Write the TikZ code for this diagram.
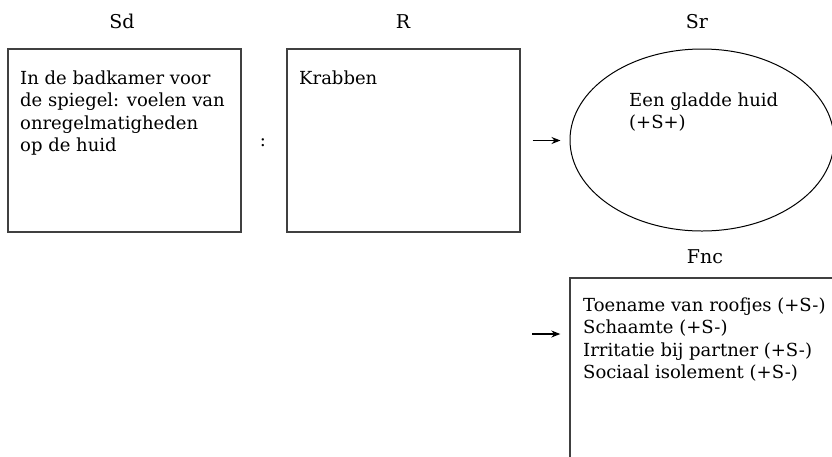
\documentclass[tikz,border=0pt]{standalone}
\usepackage{fontspec}
\setmainfont{DejaVu Serif}
\usetikzlibrary{arrows.meta,shapes.geometric}
\begin{document}
\begin{tikzpicture}[x=1pt,y=-1pt,
  box/.style={draw=black!75,line width=1.4pt,minimum width=233pt,minimum height=183pt,inner sep=0pt},
  oval/.style={draw=black,line width=1pt,ellipse,minimum width=264pt,minimum height=182pt,inner sep=0pt},
  txt/.style={anchor=base west,align=left,inner sep=0pt,font=\fontsize{18}{22.5}\selectfont},
  lbl/.style={anchor=base,inner sep=0pt,font=\fontsize{19}{22}\selectfont},
  arr/.style={-{Stealth[length=9pt,width=7pt]},line width=1.2pt}]
\useasboundingbox (0,0) rectangle (832,456);
\clip (0,0) rectangle (832,456);
% labels
\node[lbl] (lSd) at (122,28) {Sd};
\node[lbl] (lR) at (403,28) {R};
\node[lbl] (lSr) at (697,28) {Sr};
\node[lbl] (lFnc) at (705,263) {Fnc};
% boxes
\node[box] (Sd) at (124.5,140.5) {};
\node[box] (R) at (403.5,140.5) {};
\node[oval] (Sr) at (702,140) {};
\node[box,minimum width=300pt,minimum height=250pt] (Fnc) at (720,403) {};
% texts (base anchor = baseline of last line)
\node[txt] (tSd) at (20,151.5) {In de badkamer voor\\de spiegel: voelen van\\onregelmatigheden\\op de huid};
\node[txt] (tR) at (299,84) {Krabben};
\node[txt] (tSr) at (629,128.5) {Een gladde huid\\(+S+)};
\node[txt] (tFnc) at (583,378.5) {Toename van roofjes (+S-)\\Schaamte (+S-)\\Irritatie bij partner (+S-)\\Sociaal isolement (+S-)};
\node[txt,anchor=base] (colon) at (263,146) {:};
% arrows
\coordinate (a1) at ([xshift=12pt]R.east);
\draw[arr] (a1) -- ([xshift=-9pt]Sr.west |- a1);
\coordinate (a2) at (532,334);
\draw[arr] (a2) -- ([xshift=-9pt]Fnc.west |- a2);
\end{tikzpicture}
\end{document}
